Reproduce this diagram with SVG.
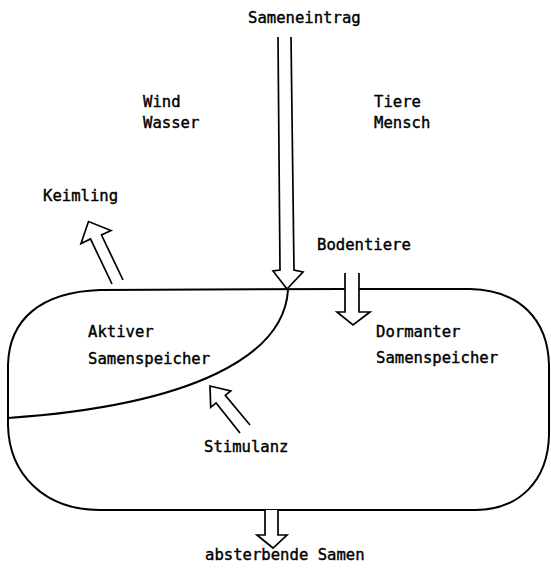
<svg xmlns="http://www.w3.org/2000/svg" width="551" height="571" viewBox="0 0 551 571">
<style>
.o{fill:none;stroke:#000;stroke-width:2;stroke-linejoin:round;stroke-linecap:round}
.a{fill:#fff;stroke:#000;stroke-width:1.7;stroke-linejoin:miter}
.t{font-family:"DejaVu Sans Mono","Liberation Mono",monospace;font-size:15.6px;fill:#000;stroke:#000;stroke-width:0.4}
</style>
<rect width="551" height="571" fill="#fff"/>
<g id="speicher">
<path class="o" d="M344,289 L100,290 C40,292 9,320 8,365 L8,425 C9,475 45,510 100,510 L475,510 C520,510 548,480 549,435 L549,365 C548,320 520,290 470,289 L359,289"/>
<path class="o" d="M288,290 C284,355 195,405 8,418"/>
</g>
<g id="connectors">
<path id="a-eintrag" class="a" d="M278,37 L280,270 L273,271 L287,289 L303,272 L294,270 L291,37"/>
<path id="a-boden" class="a" d="M345,273 L345,312 L337,312 L353,325 L370,312 L359,312 L359,273"/>
<path id="a-keim" class="a" d="M112,284 L90.5,239 L81,243.5 L88.5,221.5 L111,230.5 L101.5,235 L123,280"/>
<path id="a-stim" class="a" d="M240,433 L216.1,402.9 L210.7,407.3 L210,386 L230.7,390.9 L225.3,395.3 L250,425"/>
<path id="a-sterb" class="a" d="M265,510 L265,535 L257,535 L273,548 L287,535 L278,535 L278,510"/>
</g>
<g id="labels">
<text class="t" x="248" y="23">Sameneintrag</text>
<text class="t" x="143" y="107">Wind</text>
<text class="t" x="143" y="128">Wasser</text>
<text class="t" x="374" y="107">Tiere</text>
<text class="t" x="374" y="128">Mensch</text>
<text class="t" x="43" y="201">Keimling</text>
<text class="t" x="317" y="250">Bodentiere</text>
<text class="t" x="88" y="337">Aktiver</text>
<text class="t" x="88" y="364">Samenspeicher</text>
<text class="t" x="376" y="337">Dormanter</text>
<text class="t" x="376" y="363">Samenspeicher</text>
<text class="t" x="204" y="452">Stimulanz</text>
<text class="t" x="205" y="560">absterbende Samen</text>
</g>
</svg>
